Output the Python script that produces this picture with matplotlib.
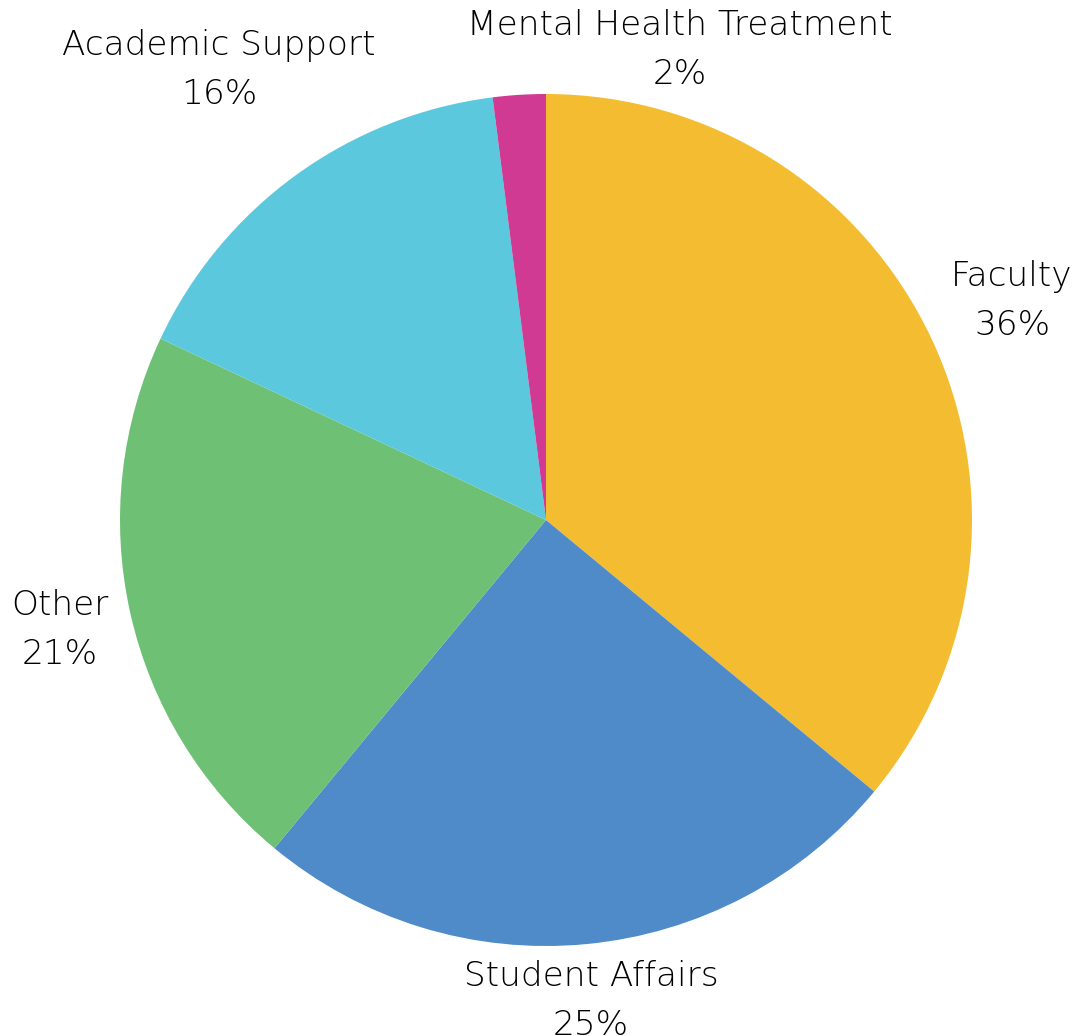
import matplotlib
matplotlib.use("Agg")
import matplotlib.pyplot as plt

categories = ["Faculty", "Student Affairs", "Other", "Academic Support", "Mental Health Treatment"]
shares = [36, 25, 21, 16, 2]
colors = ["#F4BD31", "#4E8BC8", "#6DC074", "#5CC8DE", "#D13A93"]

# label anchor points (centre of each two-line label), in pie-radius units
label_pos = [(1.094, 0.514), (0.106, -1.129), (-1.141, -0.258), (-0.768, 1.056), (0.315, 1.103)]

W, H = 1089, 1036
fig = plt.figure(figsize=(W / 100, H / 100), dpi=100)
cx, cy, R = 546, 520, 426
ax = fig.add_axes([(cx - R) / W, (H - cy - R) / H, 2 * R / W, 2 * R / H])

ax.pie(shares, colors=colors, startangle=90, counterclock=False, radius=1,
       wedgeprops=dict(linewidth=0))
ax.set_xlim(-1, 1)
ax.set_ylim(-1, 1)
ax.set_aspect("equal")
ax.axis("off")

for name, val, (x, y) in zip(categories, shares, label_pos):
    ax.text(x, y, f"{name}\n{val}%", ha="center", va="center", fontsize=24.7,
            family="DejaVu Sans", weight="light", color="#000000",
            linespacing=1.6, clip_on=False)

fig.savefig("out.png", dpi=100, facecolor="white")
